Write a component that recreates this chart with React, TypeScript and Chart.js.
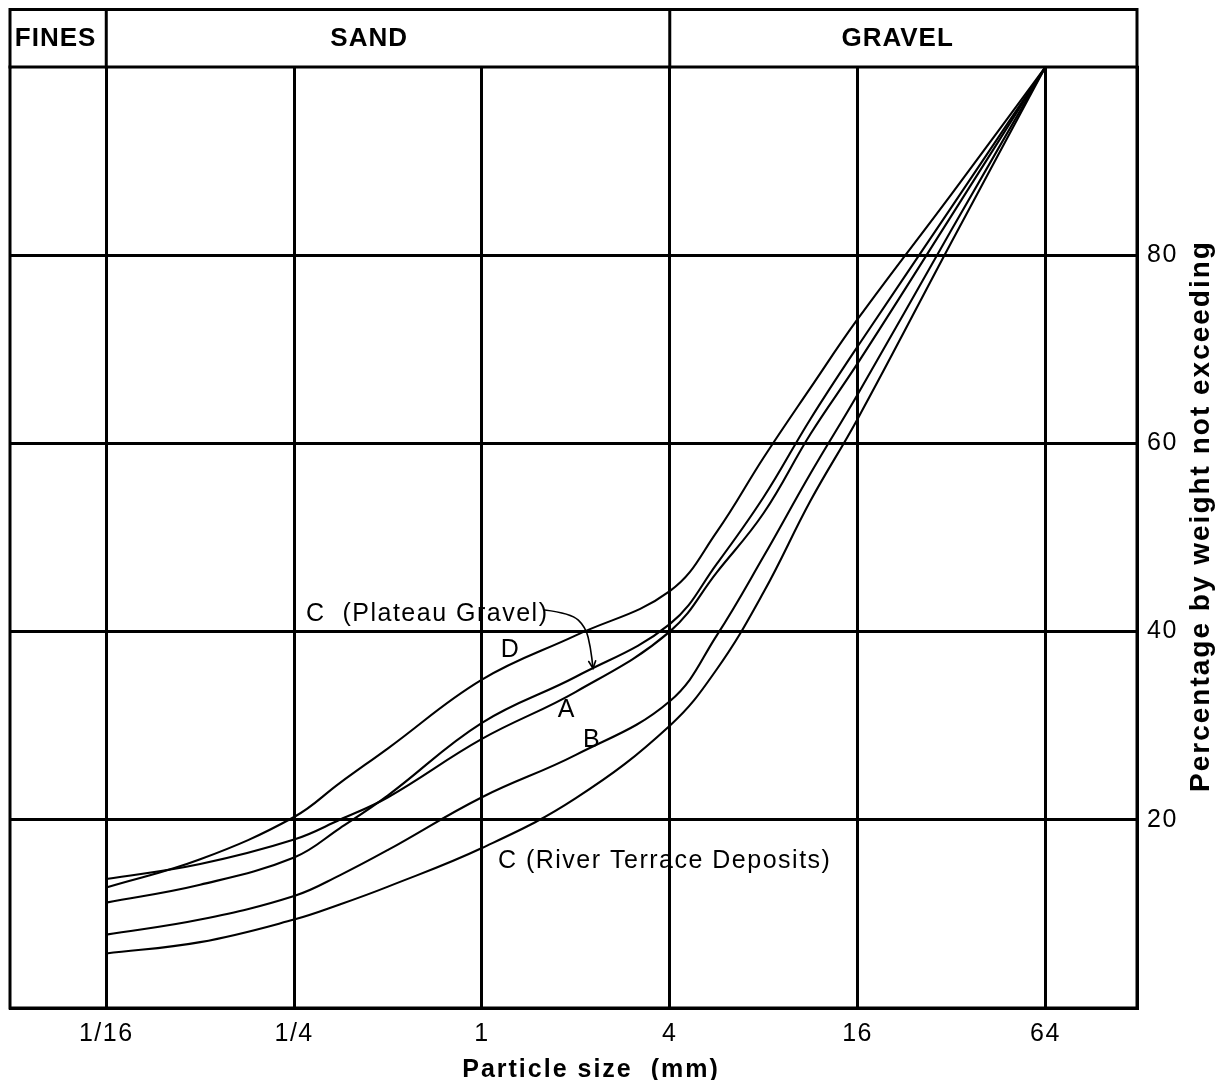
import React, { useEffect, useRef } from 'react';
import { Chart, registerables } from 'chart.js';

Chart.register(...registerables);

// Particle sizes (mm) at which the grading curves are sampled
const sizes = [0.0625, 0.125, 0.25, 0.35, 0.5, 1, 2, 4, 5.66, 8, 11.3, 16, 32, 64];

// Percentage by weight not exceeding
const curveD = [12.8, 15.8, 20.3, 23.9, 27.6, 34.9, 39.6, 44.3, 50.6, 58.5, 65.9, 73.2, 86.5, 100];
const curveCPlateau = [11.2, 13.1, 16.0, 19.1, 22.6, 30.3, 35.2, 40.8, 47.2, 54.3, 62.6, 70.3, 85.1, 100];
const curveA = [13.7, 15.3, 17.9, 20.0, 22.4, 28.6, 33.6, 40.0, 46.3, 52.6, 61.0, 68.5, 84.2, 100];
const curveB = [7.8, 9.4, 11.9, 14.1, 16.8, 22.4, 26.9, 32.6, 39.6, 48.0, 56.8, 65.2, 82.7, 100];
const curveCRiver = [5.8, 7.0, 9.4, 11.0, 12.9, 17.0, 22.3, 30.0, 36.0, 44.2, 53.9, 62.6, 81.4, 100];

// Axes
const xTickValues = [1 / 16, 1 / 4, 1, 4, 16, 64];
const xTickLabels = ['1/16', '1/4', '1', '4', '16', '64'];
const xMin = Math.pow(2, -5.025);
const xMax = Math.pow(2, 6.975);
const yTickValues = [20, 40, 60, 80];
const xTitle = 'Particle size  (mm)';
const yTitle = 'Percentage by weight not exceeding';

// Header band
const zoneLabels = ['FINES', 'SAND', 'GRAVEL'];
const zoneLabelAt = [0.043, 0.435, 21.5];
const zoneBounds = [1 / 16, 4];

// Curve annotations (anchor: size mm, percent)
const noteTexts = ['C  (Plateau Gravel)', 'D', 'A', 'B', 'C (River Terrace Deposits)'];
const noteSizes = [0.273, 1.15, 1.75, 2.11, 1.125];
const noteValues = [41.1, 37.3, 30.9, 27.7, 14.9];

// Arrow from "C (Plateau Gravel)" to its curve
const arrowSizes = [1.59, 1.93, 2.15, 2.23, 2.27];
const arrowValues = [42.3, 41.95, 40.5, 38.3, 36.1];

const FONT = '"Liberation Sans", Arial, Helvetica, sans-serif';

const series = [curveD, curveCPlateau, curveA, curveB, curveCRiver];
const seriesNames = ['D', 'C (Plateau Gravel)', 'A', 'B', 'C (River Terrace Deposits)'];

const decor = {
  id: 'decor',
  beforeDraw(chart: any) {
    chart.ctx.letterSpacing = '1.5px';
  },
  afterDraw(chart: any) {
    const { ctx, chartArea: a, scales } = chart;
    const xs = scales.x;
    const ys = scales.y;
    ctx.save();
    ctx.letterSpacing = '1.5px';
    ctx.strokeStyle = '#000';
    ctx.fillStyle = '#000';
    ctx.lineWidth = 3;
    ctx.lineCap = 'square';
    // frame of plot
    ctx.strokeRect(a.left, a.top, a.right - a.left, a.bottom - a.top);
    // header band
    const hTop = 1.5;
    ctx.beginPath();
    ctx.moveTo(a.left, hTop);
    ctx.lineTo(a.right, hTop);
    ctx.moveTo(a.left, hTop);
    ctx.lineTo(a.left, a.top);
    ctx.moveTo(a.right, hTop);
    ctx.lineTo(a.right, a.top);
    zoneBounds.forEach((b) => {
      const px = xs.getPixelForValue(b);
      ctx.moveTo(px, hTop);
      ctx.lineTo(px, a.top);
    });
    ctx.stroke();

    ctx.font = `bold 26px ${FONT}`;
    ctx.letterSpacing = '1px';
    ctx.textAlign = 'center';
    ctx.textBaseline = 'middle';
    zoneLabels.forEach((t, i) => {
      ctx.fillText(t, xs.getPixelForValue(zoneLabelAt[i]), (hTop + a.top) / 2 + 1);
    });

    // annotations
    ctx.font = `25px ${FONT}`;
    ctx.letterSpacing = '1.5px';
    ctx.textAlign = 'left';
    ctx.textBaseline = 'alphabetic';
    noteTexts.forEach((t, i) => {
      ctx.fillText(t, xs.getPixelForValue(noteSizes[i]), ys.getPixelForValue(noteValues[i]));
    });

    // arrow
    const pts = arrowSizes.map((s, i) => ({ x: xs.getPixelForValue(s), y: ys.getPixelForValue(arrowValues[i]) }));
    ctx.lineWidth = 1.6;
    ctx.lineCap = 'round';
    ctx.beginPath();
    ctx.moveTo(pts[0].x, pts[0].y);
    for (let i = 1; i < pts.length - 1; i++) {
      const mx = (pts[i].x + pts[i + 1].x) / 2;
      const my = (pts[i].y + pts[i + 1].y) / 2;
      ctx.quadraticCurveTo(pts[i].x, pts[i].y, mx, my);
    }
    const tip = pts[pts.length - 1];
    ctx.lineTo(tip.x, tip.y);
    ctx.stroke();
    const prev = pts[pts.length - 2];
    const ang = Math.atan2(tip.y - prev.y, tip.x - prev.x);
    const L = 8;
    ctx.beginPath();
    ctx.moveTo(tip.x - L * Math.cos(ang - 0.45), tip.y - L * Math.sin(ang - 0.45));
    ctx.lineTo(tip.x, tip.y);
    ctx.lineTo(tip.x - L * Math.cos(ang + 0.45), tip.y - L * Math.sin(ang + 0.45));
    ctx.stroke();

    // bottom axis title
    ctx.font = `bold 25px ${FONT}`;
    ctx.letterSpacing = '2px';
    ctx.textAlign = 'center';
    ctx.textBaseline = 'middle';
    ctx.fillText(xTitle, 583, 1062);

    // right-hand axis title (reads bottom to top)
    ctx.translate(1193, 508);
    ctx.rotate(-Math.PI / 2);
    ctx.font = `bold 28px ${FONT}`;
    ctx.letterSpacing = '2px';
    ctx.textAlign = 'center';
    ctx.textBaseline = 'middle';
    ctx.fillText(yTitle, 0, 0);
    ctx.restore();
  },
};

export default function App() {
  const ref = useRef<HTMLCanvasElement>(null);
  useEffect(() => {
    const canvas = ref.current;
    if (!canvas) return;
    const chart = new Chart(canvas, {
      type: 'line',
      data: {
        datasets: series.map((vals, k) => ({
          label: seriesNames[k],
          data: sizes.map((s, i) => ({ x: s, y: vals[i] })),
          borderColor: '#000',
          borderWidth: 2.1,
          pointRadius: 0,
          fill: false,
          tension: 0.4,
        })),
      },
      options: {
        animation: false,
        responsive: false,
        maintainAspectRatio: false,
        devicePixelRatio: 1,
        layout: { padding: { left: 2, top: 59, right: 0, bottom: 0 } },
        plugins: { legend: { display: false }, tooltip: { enabled: false } },
        scales: {
          x: {
            type: 'logarithmic',
            min: xMin,
            max: xMax,
            afterBuildTicks: (scale: any) => {
              scale.ticks = xTickValues.map((v) => ({ value: v }));
            },
            afterFit: (scale: any) => {
              scale.height = 72;
              scale.paddingLeft = 0;
              scale.paddingRight = 0;
            },
            ticks: {
              autoSkip: false,
              maxRotation: 0,
              padding: 11,
              color: '#000',
              font: { family: FONT, size: 25 },
              callback: (_v: any, i: number) => xTickLabels[i],
            },
            grid: { color: '#000', lineWidth: 3, drawTicks: false },
            border: { color: '#000', width: 3 },
            title: { display: false, text: xTitle },
          },
          y: {
            type: 'linear',
            position: 'right',
            min: 0,
            max: 100,
            afterBuildTicks: (scale: any) => {
              scale.ticks = yTickValues.map((v) => ({ value: v }));
            },
            afterFit: (scale: any) => {
              scale.width = 78;
            },
            ticks: {
              padding: 10,
              color: '#000',
              font: { family: FONT, size: 25 },
            },
            grid: { color: '#000', lineWidth: 3, drawTicks: false },
            border: { color: '#000', width: 3 },
          },
        },
      },
      plugins: [decor],
    } as any);
    return () => chart.destroy();
  }, []);
  return <canvas ref={ref} width={1207} height={1072} style={{ display: 'block' }} />;
}
